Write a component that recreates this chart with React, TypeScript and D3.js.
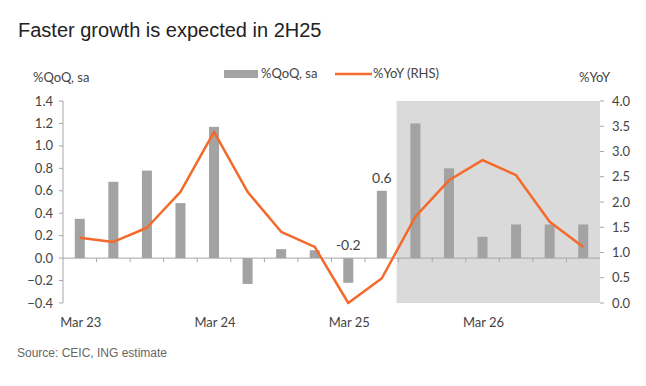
import React from 'react';
import * as d3 from 'd3';

const quarters = ['Mar 23', 'Jun 23', 'Sep 23', 'Dec 23', 'Mar 24', 'Jun 24', 'Sep 24', 'Dec 24',
  'Mar 25', 'Jun 25', 'Sep 25', 'Dec 25', 'Mar 26', 'Jun 26', 'Sep 26', 'Dec 26'];
const qoq = [0.35, 0.68, 0.78, 0.49, 1.17, -0.23, 0.08, 0.07, -0.22, 0.6, 1.2, 0.8, 0.19, 0.3, 0.3, 0.3];
const yoy = [1.29, 1.21, 1.49, 2.2, 3.39, 2.2, 1.41, 1.11, 0.0, 0.49, 1.71, 2.43, 2.83, 2.53, 1.61, 1.11];
const xLabels = ['Mar 23', 'Mar 24', 'Mar 25', 'Mar 26'];
const leftTicks = [-0.4, -0.2, 0, 0.2, 0.4, 0.6, 0.8, 1.0, 1.2, 1.4];
const rightTicks = [0, 0.5, 1, 1.5, 2, 2.5, 3, 3.5, 4];
const labelled = [{ q: 'Mar 25', text: '-0.2' }, { q: 'Jun 25', text: '0.6' }];
const forecastStart = 'Sep 25';

const ORANGE = '#f36a2b';
const GREY = '#a3a3a3';
const AXIS = '#a6a6a6';
const TXT = '#444';
const FONT = 'Lato, "Open Sans", sans-serif';

export default function App() {
  const left = 63, right = 600, top = 101, bottom = 303;

  const x = d3.scaleBand<string>().domain(quarters).range([left, right]).padding(0);
  const yL = d3.scaleLinear().domain([-0.4, 1.4]).range([bottom, top]);
  const yR = d3.scaleLinear().domain([0, 4]).range([bottom, top]);
  const barW = 10;
  const cx = (q: string) => (x(q) ?? 0) + x.bandwidth() / 2;

  const line = d3.line<number>()
    .x((_, i) => cx(quarters[i]))
    .y(d => yR(d));

  const shadeX = x(forecastStart) ?? 0;

  return (
    <svg width={646} height={386} style={{ position: 'absolute', left: 0, top: 0 }} fontFamily={FONT}>
      <rect width={646} height={386} fill="#fff" />
      <text x={18} y={37} fontSize={20} fill="#222" fontFamily='"Liberation Sans", Arial, sans-serif'>
        Faster growth is expected in 2H25
      </text>

      {/* forecast shading */}
      <rect x={shadeX - 2} y={top} width={right - shadeX + 2} height={bottom - top} fill="#dadada" />

      {/* axis titles + legend */}
      <text x={33} y={82} fontSize={13} fill={TXT}>%QoQ, sa</text>
      <text x={579} y={82} fontSize={13} fill={TXT}>%YoY</text>
      <rect x={224} y={70} width={34} height={8} fill={GREY} />
      <text x={261} y={78} fontSize={13} fill={TXT}>%QoQ, sa</text>
      <line x1={335} x2={372} y1={74} y2={74} stroke={ORANGE} strokeWidth={2.5} />
      <text x={373} y={78} fontSize={13} fill={TXT}>%YoY (RHS)</text>

      {/* left axis */}
      <line x1={left} x2={left} y1={top} y2={bottom} stroke={AXIS} />
      {leftTicks.map(t => (
        <g key={t}>
          <line x1={left - 4} x2={left} y1={yL(t)} y2={yL(t)} stroke={AXIS} />
          <text x={53} y={yL(t) + 4.5} fontSize={13} fill={TXT} textAnchor="end">{d3.format('.1f')(t)}</text>
        </g>
      ))}

      {/* right axis */}
      {rightTicks.map(t => (
        <g key={t}>
          <line x1={right} x2={right + 4} y1={yR(t)} y2={yR(t)} stroke={AXIS} />
          <text x={612} y={yR(t) + 4.5} fontSize={13} fill={TXT}>{d3.format('.1f')(t)}</text>
        </g>
      ))}

      {/* bars */}
      {qoq.map((v, i) => (
        <rect key={i} x={cx(quarters[i]) - barW / 2} width={barW}
          y={Math.min(yL(v), yL(0))} height={Math.abs(yL(v) - yL(0))} fill={GREY} />
      ))}

      {/* zero line + category ticks */}
      <line x1={left} x2={right} y1={yL(0)} y2={yL(0)} stroke={AXIS} />
      {quarters.slice(1).map(q => (
        <line key={q} x1={x(q)} x2={x(q)} y1={yL(0)} y2={yL(0) + 4} stroke={AXIS} />
      ))}

      {/* YoY line */}
      <path d={line(yoy) ?? ''} fill="none" stroke={ORANGE} strokeWidth={2.5} strokeLinejoin="round" />

      {/* data labels */}
      {labelled.map(l => {
        const v = qoq[quarters.indexOf(l.q)];
        const yy = v >= 0 ? yL(v) - 8 : yL(0) - 8;
        return <text key={l.q} x={cx(l.q)} y={yy} fontSize={14} fill={TXT} textAnchor="middle">{l.text}</text>;
      })}

      {/* x labels */}
      {xLabels.map(q => (
        <text key={q} x={cx(q) + 1} y={327} fontSize={13} fill={TXT} textAnchor="middle">{q}</text>
      ))}

      <text x={17} y={357} fontSize={12} fill="#666" fontFamily='"Liberation Sans", Arial, sans-serif'>
        Source: CEIC, ING estimate
      </text>
    </svg>
  );
}
